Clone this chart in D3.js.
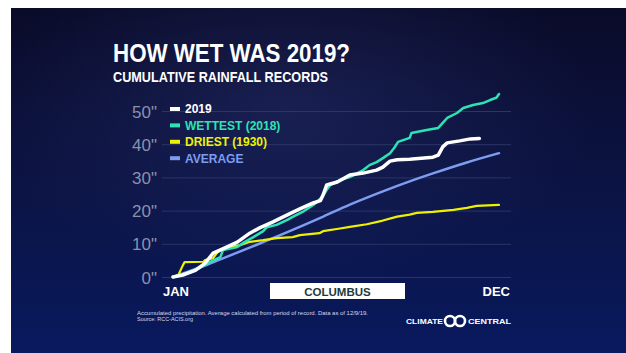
<!DOCTYPE html>
<html><head><meta charset="utf-8">
<script src="https://cdn.jsdelivr.net/npm/d3@7"></script>
<style>html,body{margin:0;padding:0;background:#fff;}svg{display:block;}</style>
</head><body>
<script>
// ---- data (day of year, cumulative inches) ----
const yTicks = [0, 10, 20, 30, 40, 50];
const yTickLabels = ['0"', '10"', '20"', '30"', '40"', '50"'];
const monthLabels = ["JAN", "DEC"];
const cityName = "COLUMBUS";

const days2019 = [0,11,25,36,45,60,72,86,97,112,128,142,157,165,168,172,184,198,213,228,235,243,251,265,291,297,302,307,321,333,343];
const vals2019 = [0,0.6,2,4.2,7.2,9,10.5,13.2,14.8,16.6,18.7,20.5,22.3,23,24.7,27.7,28.6,30.7,31.3,32.2,33.1,34.9,35.3,35.5,36.1,36.7,39.2,40.4,41,41.6,41.7];

const daysWettest = [0,16,30,41,53,56,72,78,90,101,105,116,128,134,145,157,161,167,172,176,187,198,213,220,228,235,243,248,252,265,267,284,297,302,307,318,325,336,347,355,362,365];
const valsWettest = [0,1.2,2.7,4.5,6,8.1,9,10.2,12,13.8,15,15.7,17.2,18.1,19.6,21.7,22.6,24.1,26.2,27.7,29.2,30.1,32.2,33.7,34.6,35.8,37.3,39,40.7,41.9,43.4,44.3,44.9,46.4,47.9,49.4,50.9,51.8,52.4,53.3,54,55.1];

const daysDriest = [0,6,11,13,34,36,45,49,53,64,75,86,101,116,134,142,164,168,187,198,217,235,251,265,273,291,314,329,340,365];
const valsDriest = [0,0.6,3.5,4.5,4.6,5.1,5.7,7.2,8.1,9,9.6,10.6,11.1,11.7,12,12.6,13.2,13.8,14.6,15.1,15.9,17,18.2,18.8,19.3,19.6,20.2,20.8,21.4,21.7];

const daysAverage = [0,19,38,53,90,128,165,198,235,265,291,329,365];
const valsAverage = [0,1.8,3.7,5.3,9.3,13.5,17.8,21.8,25.8,28.8,31.2,34.5,37.3];

const seriesNames = ["2019", "WETTEST (2018)", "DRIEST (1930)", "AVERAGE"];
const seriesColors = ["#ffffff", "#2ee3b3", "#eef200", "#7e9cf0"];

// ---- drawing ----
const W = 626, H = 353;
const svg = d3.select("body").append("svg").attr("width", W).attr("height", H);
const defs = svg.append("defs");
const lg = defs.append("linearGradient").attr("id","bg").attr("x1",0).attr("y1",0).attr("x2",0).attr("y2",1);
lg.append("stop").attr("offset","0%").attr("stop-color","#0a0b29");
lg.append("stop").attr("offset","55%").attr("stop-color","#0b1445");
lg.append("stop").attr("offset","100%").attr("stop-color","#08195e");
const rg = defs.append("radialGradient").attr("id","glow").attr("cx","0.45").attr("cy","0.3").attr("r","0.5");
rg.append("stop").attr("offset","0%").attr("stop-color","#2a3270").attr("stop-opacity",0.45);
rg.append("stop").attr("offset","100%").attr("stop-color","#2a3270").attr("stop-opacity",0);

svg.append("rect").attr("width",W).attr("height",H).attr("fill","#fff");
svg.append("rect").attr("x",11).attr("y",8).attr("width",W-11).attr("height",H-8).attr("fill","url(#bg)");
svg.append("rect").attr("x",11).attr("y",8).attr("width",W-11).attr("height",H-8).attr("fill","url(#glow)");

const x = d3.scaleLinear().domain([0,365]).range([173,499]);
const y = d3.scaleLinear().domain([0,50]).range([277,111]);

// title
const tf = "'Liberation Sans',Arial,sans-serif";
svg.append("text").attr("x",113).attr("y",62).text("HOW WET WAS 2019?")
  .attr("font-family",tf).attr("font-weight",700)
  .attr("font-size",26).attr("fill","#fff").attr("textLength",237).attr("lengthAdjust","spacingAndGlyphs");
svg.append("text").attr("x",113).attr("y",81.5).text("CUMULATIVE RAINFALL RECORDS")
  .attr("font-family",tf).attr("font-weight",700)
  .attr("font-size",15.5).attr("fill","#fff").attr("textLength",215).attr("lengthAdjust","spacingAndGlyphs");

// gridlines
svg.append("g").selectAll("line").data(yTicks).join("line")
  .attr("x1",162).attr("x2",511).attr("y1",d=>y(d)+0.5).attr("y2",d=>y(d)+0.5)
  .attr("stroke","#2b3568").attr("stroke-width",1);

// y axis labels via d3 axis
const yAxis = d3.axisLeft(y).tickValues(yTicks).tickFormat((d,i)=>yTickLabels[i]).tickSize(0).tickPadding(0);
const ga = svg.append("g").attr("transform","translate(157,0)").call(yAxis);
ga.select(".domain").remove();
ga.selectAll("text").attr("font-family","'Liberation Sans Narrow','Liberation Sans',sans-serif")
  .attr("font-size",17).attr("fill","#8a91ad").attr("dy","0.36em");

// lines
const mk = (ds, vs) => ds.map((d,i)=>({d, v: vs[i]}));
const stepLine = d3.line().x(p=>x(p.d)).y(p=>y(p.v)).curve(d3.curveLinear);
const smoothLine = d3.line().x(p=>x(p.d)).y(p=>y(p.v)).curve(d3.curveMonotoneX);
const g = svg.append("g").attr("fill","none").attr("stroke-linejoin","round").attr("stroke-linecap","round");
g.append("path").attr("d", smoothLine(mk(daysAverage, valsAverage))).attr("stroke",seriesColors[3]).attr("stroke-width",2.5);
g.append("path").attr("d", stepLine(mk(daysDriest, valsDriest))).attr("stroke",seriesColors[2]).attr("stroke-width",2.2);
g.append("path").attr("d", stepLine(mk(daysWettest, valsWettest))).attr("stroke",seriesColors[1]).attr("stroke-width",2.5);
g.append("path").attr("d", stepLine(mk(days2019, vals2019))).attr("stroke",seriesColors[0]).attr("stroke-width",3.5);

// legend
const leg = svg.append("g").selectAll("g").data(seriesNames).join("g")
  .attr("transform",(d,i)=>`translate(170,${109 + i*16.4})`);
leg.append("rect").attr("x",0).attr("y",-2).attr("width",10).attr("height",4).attr("fill",(d,i)=>seriesColors[i]);
leg.append("text").attr("x",15).attr("dy","0.36em").text(d=>d)
  .attr("font-family","'Liberation Sans',Arial,sans-serif").attr("font-weight",700).attr("font-size",12)
  .attr("fill",(d,i)=>seriesColors[i]);

// month labels
svg.append("text").attr("x",163).attr("y",296).text(monthLabels[0])
  .attr("font-family","'Liberation Sans',Arial,sans-serif").attr("font-weight",700).attr("font-size",13).attr("fill","#fff");
svg.append("text").attr("x",510).attr("y",296).attr("text-anchor","end").text(monthLabels[1])
  .attr("font-family","'Liberation Sans',Arial,sans-serif").attr("font-weight",700).attr("font-size",13).attr("fill","#fff");

// city box
svg.append("rect").attr("x",270).attr("y",283).attr("width",135).attr("height",16).attr("fill","#fff");
svg.append("text").attr("x",337.5).attr("y",295.5).attr("text-anchor","middle").text(cityName)
  .attr("font-family","'Liberation Sans',Arial,sans-serif").attr("font-weight",700).attr("font-size",11.5).attr("fill","#1d3b3b");

// footnote
svg.append("text").attr("x",137).attr("y",314.5).text("Accumulated precipitation. Average calculated from period of record. Data as of 12/9/19.")
  .attr("font-family","'Liberation Sans Narrow','Liberation Sans',sans-serif").attr("font-size",5.8).attr("fill","#d4d8ea")
  .attr("textLength",231).attr("lengthAdjust","spacingAndGlyphs");
svg.append("text").attr("x",137).attr("y",320.5).text("Source: RCC-ACIS.org")
  .attr("font-family","'Liberation Sans Narrow','Liberation Sans',sans-serif").attr("font-size",5.8).attr("fill","#d4d8ea")
  .attr("textLength",56).attr("lengthAdjust","spacingAndGlyphs");

// logo
const lf = "'Liberation Sans',Arial,sans-serif";
svg.append("text").attr("x",406).attr("y",324).text("CLIMATE").attr("font-family",lf).attr("font-weight",700)
  .attr("font-size",8).attr("fill","#fff").attr("textLength",37).attr("lengthAdjust","spacingAndGlyphs");
svg.append("circle").attr("cx",450).attr("cy",321).attr("r",5).attr("fill","none").attr("stroke","#fff").attr("stroke-width",2.6);
svg.append("circle").attr("cx",460).attr("cy",321).attr("r",5).attr("fill","none").attr("stroke","#fff").attr("stroke-width",2.6);
svg.append("text").attr("x",468).attr("y",324).text("CENTRAL").attr("font-family",lf).attr("font-weight",700)
  .attr("font-size",8).attr("fill","#fff").attr("textLength",43).attr("lengthAdjust","spacingAndGlyphs");
</script>
</body></html>
